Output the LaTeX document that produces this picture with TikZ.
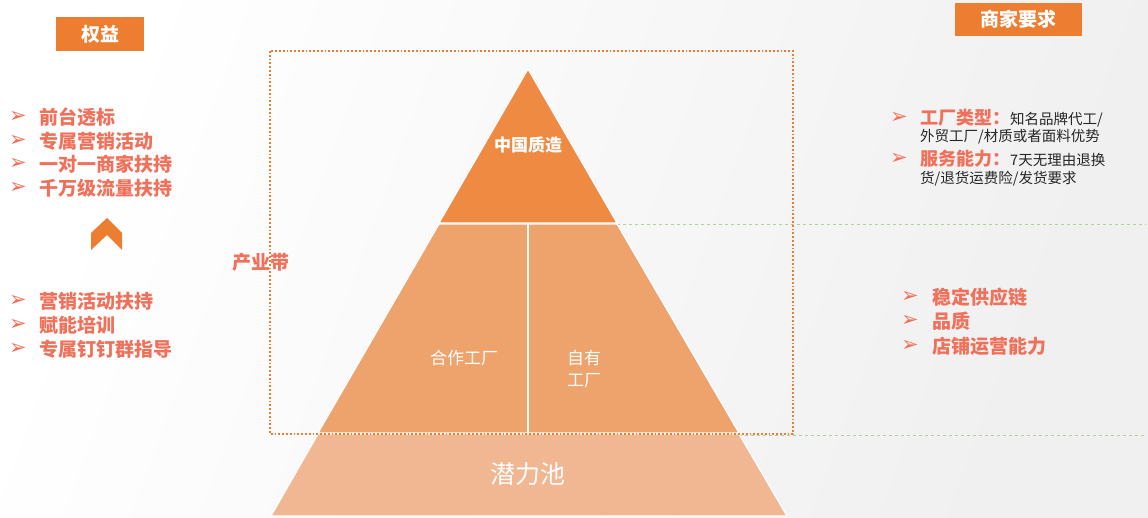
\documentclass[tikz,border=0pt]{standalone}
\usepackage{fontspec}
\setmainfont{Noto Sans CJK SC}
\newfontfamily\symfont{DejaVu Sans}
\usetikzlibrary{positioning}
\definecolor{boxOrange}{HTML}{ED7D31}
\definecolor{itemRed}{HTML}{F0705A}
\definecolor{topBand}{HTML}{EE8A42}
\definecolor{midBand}{HTML}{EEA26C}
\definecolor{lowBand}{HTML}{F0B792}
\definecolor{greenDash}{HTML}{B4CF98}
\tikzstyle{headBox} = [fill=boxOrange, text=white, inner sep=0pt,
   font=\fontsize{19}{21}\selectfont\bfseries]
\tikzstyle{bigItem} = [text=itemRed, inner sep=0pt, anchor=west,
   font=\fontsize{19}{22}\selectfont\bfseries]
\tikzstyle{bulletMark} = [text=itemRed, inner sep=0pt,
   font=\symfont\fontsize{21}{22}\selectfont]
\tikzstyle{smallItem} = [text=black!85, inner sep=0pt, anchor=west,
   font=\fontsize{14.5}{18}\selectfont]
\tikzstyle{bandText} = [text=white, inner sep=0pt]
\tikzstyle{bandEdge} = [draw=white, line width=1.2pt]

\begin{document}
\begin{tikzpicture}[x=1pt, y=-1pt]
  \shade[left color=white, right color=black!6, shading angle=70] (0,0) rectangle (1148,518);
  \useasboundingbox (0,0) rectangle (1148,518);
  % guide lines
  \draw[greenDash, dashed, line width=0.8pt] (617,224) -- (1146,224);
  \draw[greenDash, dashed, line width=0.8pt] (739,435) -- (1146,435);
  % pyramid
  \fill[lowBand, bandEdge] (318,434) -- (271,516) -- (787,516) -- (739,434) -- cycle;
  \fill[midBand, bandEdge] (439,224) -- (318,433) -- (739,433) -- (617,224) -- cycle;
  \fill[topBand, bandEdge] (528,69) -- (439,223) -- (617,223) -- cycle;
  \draw[white, line width=1.5pt] (528,224) -- (528,433);
  \draw[boxOrange, dotted, line width=1.8pt] (270,51) rectangle (793,434);
  \node[bandText, font=\fontsize{17}{20}\selectfont\bfseries] (china) at (528,145) {中国质造};
  \node[bandText, font=\fontsize{17}{20}\selectfont] (coop) at (464,358) {合作工厂};
  \node[bandText, font=\fontsize{17}{22}\selectfont, align=left] (own) at (584,369) {自有\\工厂};
  \node[bandText, font=\fontsize{25}{28}\selectfont] (pool) at (528,474) {潜力池};
  \node[text=itemRed, inner sep=0pt, font=\fontsize{19}{22}\selectfont\bfseries] (belt) at (261,262) {产业带};

  % left side
  \node[headBox, minimum width=88pt, minimum height=34pt] (rights) at (100,34) {权益};
  \node[bigItem] (r1) at (39,117) {前台透标};
  \node[bigItem] (r2) at (39,141) {专属营销活动};
  \node[bigItem] (r3) at (39,164) {一对一商家扶持};
  \node[bigItem] (r4) at (39,188) {千万级流量扶持};
  \node[bulletMark, left=12pt of r1] (r1b) {➢};
  \node[bulletMark, left=12pt of r2] (r2b) {➢};
  \node[bulletMark, left=12pt of r3] (r3b) {➢};
  \node[bulletMark, left=12pt of r4] (r4b) {➢};
  \fill[boxOrange] (91,250) -- (91,233) -- (107,218) -- (122,233) -- (122,250) -- (107,235) -- cycle;
  \node[bigItem] (b1) at (39,301) {营销活动扶持};
  \node[bigItem] (b2) at (39,325) {赋能培训};
  \node[bigItem] (b3) at (39,349) {专属钉钉群指导};
  \node[bulletMark, left=12pt of b1] (b1b) {➢};
  \node[bulletMark, left=12pt of b2] (b2b) {➢};
  \node[bulletMark, left=12pt of b3] (b3b) {➢};

  % right side
  \node[headBox, minimum width=127pt, minimum height=33pt] (needs) at (1018.5,19.5) {商家要求};
  \node[smallItem] (n1) at (920,118) {{\color{itemRed}\fontsize{18}{20}\selectfont\bfseries 工厂类型：}知名品牌代工/};
  \node[smallItem] (n1x) at (920,137) {外贸工厂/材质或者面料优势};
  \node[smallItem] (n2) at (920,159) {{\color{itemRed}\fontsize{18}{20}\selectfont\bfseries 服务能力：}7天无理由退换};
  \node[smallItem] (n2x) at (920,179) {货/退货运费险/发货要求};
  \node[bulletMark, left=12pt of n1] (n1b) {➢};
  \node[bulletMark, left=12pt of n2] (n2b) {➢};
  \node[bigItem] (m1) at (932,297) {稳定供应链};
  \node[bigItem] (m2) at (932,321) {品质};
  \node[bigItem] (m3) at (932,346) {店铺运营能力};
  \node[bulletMark, left=13pt of m1] (m1b) {➢};
  \node[bulletMark, left=13pt of m2] (m2b) {➢};
  \node[bulletMark, left=13pt of m3] (m3b) {➢};
\end{tikzpicture}
\end{document}
